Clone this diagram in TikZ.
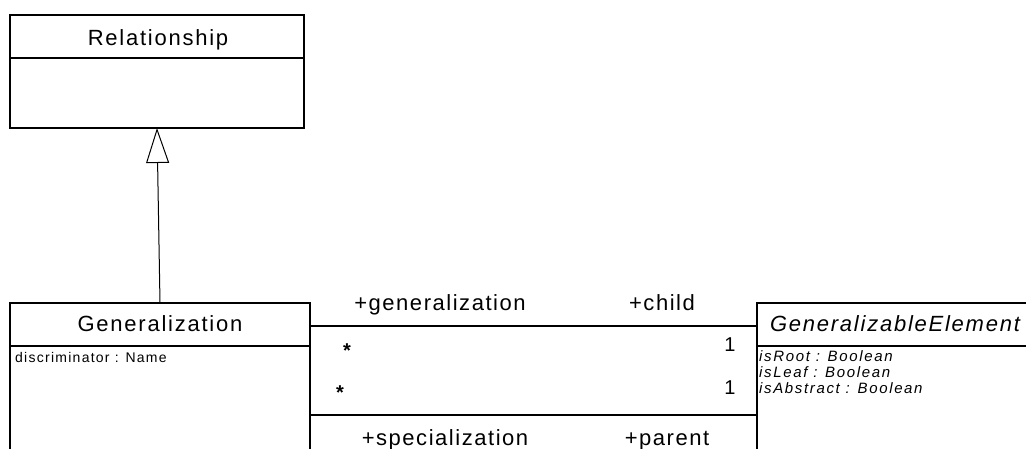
\documentclass[tikz,border=0pt]{standalone}
\usepackage{fontspec}
\setmainfont{Liberation Sans}
\newfontfamily\titlefont[LetterSpace=8]{Liberation Sans}
\newfontfamily\rolefont[LetterSpace=7]{Liberation Sans}
\newfontfamily\attrfont[LetterSpace=9]{Liberation Sans}
\newfontfamily\italattrfont[LetterSpace=11]{Liberation Sans}
\usetikzlibrary{arrows.meta}

\tikzset{
  umlbox/.style={draw, line width=1.1pt, inner sep=0pt, outer sep=0pt, anchor=north west},
  divider/.style={line width=1.1pt},
  classname/.style={inner sep=0pt, anchor=base, font={\titlefont\fontsize{22}{26}\selectfont}},
  abstractname/.style={classname, font={\titlefont\itshape\fontsize{22}{26}\selectfont}},
  attr/.style={inner sep=0pt, anchor=base west, font={\attrfont\fontsize{14}{16}\selectfont}},
  italattr/.style={inner sep=0pt, anchor=base west, font={\italattrfont\itshape\fontsize{15}{16}\selectfont}},
  rolelabel/.style={inner sep=0pt, anchor=base, font={\rolefont\fontsize{22}{26}\selectfont}},
  mult/.style={inner sep=0pt, anchor=base, font={\rolefont\fontsize{20}{22}\selectfont}},
  star/.style={inner sep=0pt, anchor=base, font={\rolefont\bfseries\fontsize{20}{22}\selectfont}},
  assoc/.style={line width=1.1pt},
  inherit/.style={line width=1pt, -{Triangle[open, length=35pt, width=23pt]}},
}

\begin{document}
\begin{tikzpicture}[x=1pt, y=-1pt]
  \useasboundingbox (0,0) rectangle (1026,448);
  \fill[white] (0,0) rectangle (1026,448);
  \clip (0,0) rectangle (1026,448);

  % class Relationship
  \node[umlbox, minimum width=294pt, minimum height=113pt] (rel) at (10,15) {};
  \draw[divider] (10,58) -- (304,58);
  \node[classname] (relname) at (158,45) {Relationship};

  % class Generalization (runs past the lower edge)
  \node[umlbox, minimum width=300pt, minimum height=170pt] (gen) at (10,303) {};
  \draw[divider] (10,346) -- (310,346);
  \node[classname] (genname) at (160,331) {Generalization};
  \node[attr] (disc) at (15,362) {discriminator : Name};

  % abstract class GeneralizableElement (runs past the right edge)
  \node[umlbox, minimum width=300pt, minimum height=170pt] (elem) at (757,303) {};
  \draw[divider] (757,346) -- (1057,346);
  \node[abstractname] (elemname) at (895,331) {GeneralizableElement};
  \node[italattr] (aroot) at (759,361) {isRoot : Boolean};
  \node[italattr] (aleaf) at (759,377) {isLeaf : Boolean};
  \node[italattr] (aabs) at (759,393) {isAbstract : Boolean};

  % inheritance
  \draw[inherit] (gen.north) -- (rel.south);

  % associations
  \draw[assoc] ([yshift=-23pt]gen.north east) -- ([yshift=-23pt]elem.north west);
  \draw[assoc] ([yshift=-112pt]gen.north east) -- ([yshift=-112pt]elem.north west);

  % role names and multiplicities
  \node[rolelabel] (lgen) at (440,310) {+generalization};
  \node[rolelabel] (lchild) at (662,310) {+child};
  \node[rolelabel] (lspec) at (445,445) {+specialization};
  \node[rolelabel] (lpar) at (667,445) {+parent};
  \node[star] (m1) at (347,357) {*};
  \node[mult] (m2) at (730,351) {1};
  \node[star] (m3) at (340,399) {*};
  \node[mult] (m4) at (730,394) {1};
\end{tikzpicture}
\end{document}
